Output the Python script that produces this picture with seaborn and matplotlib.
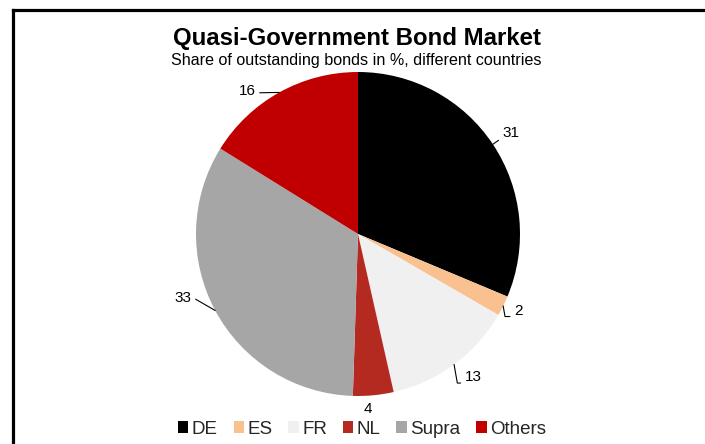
import numpy as np
import matplotlib
matplotlib.use("Agg")
import matplotlib.pyplot as plt
from matplotlib.lines import Line2D
from matplotlib.patches import Patch
import seaborn as sns

# Share of outstanding quasi-government bonds, in %
countries = ["DE", "ES", "FR", "NL", "Supra", "Others"]
shares = [31, 2, 13, 4, 33, 16]
colors = ["#000000", "#F9C18F", "#F0F0F0", "#B42A20", "#A6A6A6", "#C00000"]

# label placement relative to the wedge rim (pixels) and leader-line shapes
label_offsets = [(18, 11), (15, -5), (19, -13), (-6, -14), (-32, 13), (-32, 1)]
leader_styles = [
    dict(relpos=(0.0, 0.3), connectionstyle="angle,angleA=180,angleB=35,rad=0"),
    dict(relpos=(0.0, 0.1), connectionstyle="angle,angleA=180,angleB=-80,rad=0"),
    dict(relpos=(0.0, 0.1), connectionstyle="angle,angleA=180,angleB=-80,rad=0"),
    None,
    dict(relpos=(1.0, 0.4), connectionstyle="angle,angleA=0,angleB=150,rad=0"),
    dict(relpos=(1.0, 0.4), connectionstyle="arc3,rad=0"),
]

sns.set_theme(style="white")
plt.rcParams["font.family"] = ["Liberation Sans", "DejaVu Sans"]

W, H = 705, 444
fig = plt.figure(figsize=(W / 100, H / 100), dpi=100)
fig.patch.set_facecolor("white")

cx, cy, r = 358, 234, 162
ax = fig.add_axes([(cx - r) / W, (H - cy - r) / H, 2 * r / W, 2 * r / H])

wedges, _ = ax.pie(shares, colors=colors, startangle=90, counterclock=False,
                   radius=1.0, wedgeprops=dict(linewidth=0))
ax.set_xlim(-1, 1)
ax.set_ylim(-1, 1)
ax.set_aspect("equal")
ax.axis("off")

for w, val, off, style in zip(wedges, shares, label_offsets, leader_styles):
    mid = np.deg2rad((w.theta1 + w.theta2) / 2)
    edge = (np.cos(mid), np.sin(mid))
    arrow = None
    if style is not None:
        arrow = dict(arrowstyle="-", color="black", lw=0.8, shrinkA=0.5, shrinkB=0, **style)
    ax.annotate(str(val), xy=edge, xytext=off, textcoords="offset pixels",
                ha="center", va="center", fontsize=11, color="black",
                arrowprops=arrow, annotation_clip=False)

fig.text(357 / W, 1 - 39 / H, "Quasi-Government Bond Market", ha="center",
         va="center", fontsize=17.3, fontweight="bold", color="black")
fig.text(356 / W, 1 - 61 / H, "Share of outstanding bonds in %, different countries",
         ha="center", va="center", fontsize=11.6, color="black")

handles = [Patch(facecolor=c, edgecolor="none", label=n) for c, n in zip(colors, countries)]
fig.legend(handles=handles, loc="center", bbox_to_anchor=(362 / W, 15 / H), ncol=6,
           frameon=False, fontsize=13.5, handlelength=0.55, handleheight=0.55,
           handletextpad=0.18, columnspacing=0.85, borderpad=0)

# open frame along the top and left edges
fig.add_artist(Line2D([12.5 / W, 12.5 / W], [0, 1 - 10.5 / H], transform=fig.transFigure,
                      color="black", lw=2.3, solid_capstyle="projecting"))
fig.add_artist(Line2D([12.5 / W, 1], [1 - 10.5 / H, 1 - 10.5 / H], transform=fig.transFigure,
                      color="black", lw=2.3, solid_capstyle="projecting"))

fig.savefig("out.png", dpi=100, facecolor="white")
